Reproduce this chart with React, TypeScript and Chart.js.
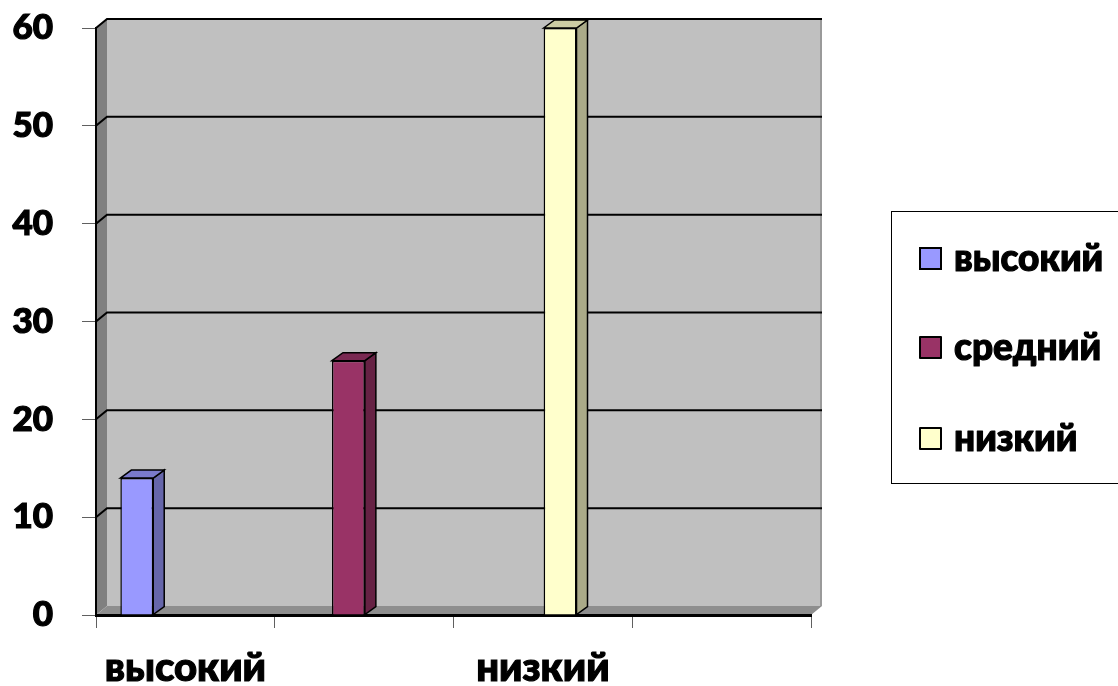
import React, { useEffect, useRef } from "react";
import { Chart, registerables } from "chart.js";

Chart.register(...registerables);

const categories = ["высокий", "средний", "низкий", ""];
const seriesNames = ["высокий", "средний", "низкий"];
const seriesValues: (number | null)[][] = [
  [14, null, null, null],
  [null, 26, null, null],
  [null, null, 60, null],
];
const seriesColors = ["#9999FF", "#993366", "#FFFFCC"];
const seriesSideColors = ["#6666AA", "#662244", "#AAAA88"];
const seriesTopColors = ["#7A7ACC", "#7A2952", "#CCCCA3"];
const yTicks = [0, 10, 20, 30, 40, 50, 60];

const FONT = "Lato, 'Open Sans', 'DejaVu Sans', sans-serif";
const WEIGHT = "900";
const WDX = 11;
const WDY = -9;
const BDX = 11;
const BDY = -8;
const BAR_SHIFT = -15.7;

const wallPlugin = {
  id: "wall3d",
  beforeDraw(chart: any) {
    const { ctx, chartArea } = chart;
    const { left, right, top, bottom } = chartArea;
    const y = chart.scales.y;
    ctx.save();
    ctx.fillStyle = "#C0C0C0";
    ctx.fillRect(left + WDX, top + WDY, right - left, bottom - top);
    ctx.fillStyle = "#9A9A9A";
    ctx.fillRect(right + WDX - 2, top + WDY, 2, bottom - top);
    ctx.fillStyle = "#808080";
    ctx.beginPath();
    ctx.moveTo(left, top);
    ctx.lineTo(left + WDX, top + WDY);
    ctx.lineTo(left + WDX, bottom + WDY);
    ctx.lineTo(left, bottom);
    ctx.closePath();
    ctx.fill();
    ctx.fillStyle = "#8E8E8E";
    ctx.beginPath();
    ctx.moveTo(left, bottom);
    ctx.lineTo(right, bottom);
    ctx.lineTo(right + WDX, bottom + WDY);
    ctx.lineTo(left + WDX, bottom + WDY);
    ctx.closePath();
    ctx.fill();
    ctx.strokeStyle = "#000000";
    ctx.lineWidth = 2;
    yTicks.forEach((v) => {
      if (v === 0) return;
      const py = y.getPixelForValue(v);
      ctx.beginPath();
      ctx.moveTo(left, py);
      ctx.lineTo(left + WDX, py + WDY);
      ctx.lineTo(right + WDX, py + WDY);
      ctx.stroke();
    });
    ctx.restore();
  },
  beforeDatasetsDraw(chart: any) {
    chart.ctx.save();
    chart.ctx.translate(BAR_SHIFT, 0);
  },
  afterDatasetsDraw(chart: any) {
    const { ctx } = chart;
    chart.data.datasets.forEach((ds: any, di: number) => {
      const meta = chart.getDatasetMeta(di);
      meta.data.forEach((bar: any, i: number) => {
        if (ds.data[i] === null || ds.data[i] === undefined) return;
        const { x, y, base, width } = bar.getProps(["x", "y", "base", "width"], true);
        const l = x - width / 2;
        const r = x + width / 2;
        ctx.lineWidth = 1.5;
        ctx.strokeStyle = "#000";
        ctx.lineJoin = "miter";
        ctx.fillStyle = seriesSideColors[di];
        ctx.beginPath();
        ctx.moveTo(r, y);
        ctx.lineTo(r + BDX, y + BDY);
        ctx.lineTo(r + BDX, base + BDY);
        ctx.lineTo(r, base);
        ctx.closePath();
        ctx.fill();
        ctx.stroke();
        ctx.fillStyle = seriesTopColors[di];
        ctx.beginPath();
        ctx.moveTo(l, y);
        ctx.lineTo(l + BDX, y + BDY);
        ctx.lineTo(r + BDX, y + BDY);
        ctx.lineTo(r, y);
        ctx.closePath();
        ctx.fill();
        ctx.stroke();
      });
    });
    ctx.restore();
  },
  afterDraw(chart: any) {
    const { ctx } = chart;
    ctx.save();
    ctx.strokeStyle = "#000";
    ctx.lineWidth = 1;
    ctx.strokeRect(891.5, 211.5, 240, 272);
    const centers = [258, 347, 438];
    ctx.font = `${WEIGHT} 37px ${FONT}`;
    ctx.textBaseline = "middle";
    ctx.textAlign = "left";
    seriesNames.forEach((name, i) => {
      const cy = centers[i];
      ctx.fillStyle = seriesColors[i];
      ctx.fillRect(920, cy - 10, 21, 21);
      ctx.lineWidth = 2;
      ctx.strokeStyle = "#000";
      ctx.strokeRect(920, cy - 10, 21, 21);
      ctx.fillStyle = "#000";
      ctx.lineWidth = 1.2;
      ctx.lineJoin = "round";
      ctx.strokeText(name, 954, cy + 1);
      ctx.fillText(name, 954, cy + 1);
    });
    ctx.restore();
  },
};

export default function App() {
  const canvasRef = useRef<HTMLCanvasElement | null>(null);

  useEffect(() => {
    if (!canvasRef.current) return;
    const chart = new Chart(canvasRef.current, {
      type: "bar",
      data: {
        labels: categories,
        datasets: seriesNames.map((name, i) => ({
          label: name,
          data: seriesValues[i],
          backgroundColor: seriesColors[i],
          borderColor: "#000",
          borderWidth: 1.5,
          categoryPercentage: 0.552,
          barPercentage: 1,
        })),
      },
      options: {
        animation: false,
        responsive: true,
        maintainAspectRatio: false,
        layout: { padding: { left: 0, right: 307, top: 28, bottom: 0 } },
        plugins: {
          legend: { display: false },
          tooltip: { enabled: false },
        },
        scales: {
          x: {
            afterFit: (s: any) => {
              s.height = 71;
            },
            grid: {
              display: true,
              drawOnChartArea: false,
              drawTicks: true,
              tickLength: 13,
              color: "#606060",
              offset: true,
            },
            border: { display: true, color: "#000", width: 3 },
            ticks: {
              autoSkip: false,
              maxRotation: 0,
              padding: 16,
              color: "#000",
              textStrokeColor: "#000",
              textStrokeWidth: 1.2,
              font: { family: FONT, size: 40, weight: WEIGHT },
              callback: (_v: any, i: number) => (i % 2 === 0 ? categories[i] : ""),
            },
          },
          y: {
            min: 0,
            max: 60,
            afterFit: (s: any) => {
              s.width = 96;
              s.paddingTop = 0;
              s.paddingBottom = 0;
            },
            afterBuildTicks: (s: any) => {
              s.ticks = yTicks.map((v) => ({ value: v }));
            },
            grid: {
              display: true,
              drawOnChartArea: false,
              drawTicks: true,
              tickLength: 14,
              color: "#606060",
            },
            border: { display: true, color: "#000", width: 2 },
            ticks: {
              padding: 29,
              color: "#000",
              textStrokeColor: "#000",
              textStrokeWidth: 1.2,
              font: { family: FONT, size: 35, weight: WEIGHT },
            },
          },
        },
      },
      plugins: [wallPlugin],
    });
    return () => chart.destroy();
  }, []);

  return (
    <div style={{ position: "fixed", left: 0, top: 0, width: 1118, height: 686, background: "#fff" }}>
      <canvas ref={canvasRef} />
    </div>
  );
}
